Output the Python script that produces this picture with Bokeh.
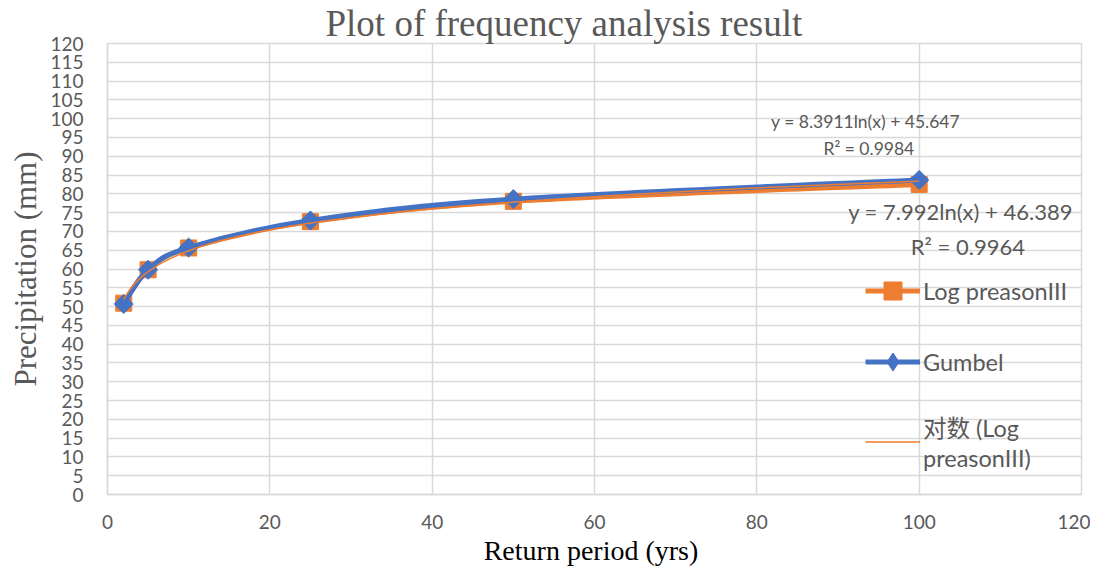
import numpy as np
from bokeh.plotting import figure
from bokeh.models import Legend, LegendItem, Label, FixedTicker, Range1d
from bokeh.embed import file_html
from bokeh.resources import INLINE

# ---------------- data ----------------
return_period = [2, 5, 10, 25, 50, 100]
log_pearson = [50.9, 59.8, 65.6, 72.6, 78.0, 82.5]
gumbel = [50.7, 59.8, 65.7, 72.9, 78.6, 83.7]
x_ticks = [0, 20, 40, 60, 80, 100, 120]
y_ticks = list(range(0, 125, 5))

title_text = "Plot of frequency analysis result"
x_title = "Return period  (yrs)"
y_title = "Precipitation (mm)"
gumbel_eq = ["y = 8.3911ln(x) + 45.647", "R² = 0.9984"]
lp_eq = ["y = 7.992ln(x) + 46.389", "R² = 0.9964"]
series_names = ["Log preasonIII", "Gumbel", "对数 (Log\npreasonIII)"]

ORANGE = "#ED7D31"
BLUE = "#4472C4"
GRID = "#D9D9D9"
TEXT = "#595959"
SANS = "Lato, 'Noto Sans CJK SC'"
SERIF = "Liberation Serif"

p = figure(width=1090, height=568, output_backend="svg", toolbar_location=None,
           x_range=Range1d(0, 120), y_range=Range1d(0, 120),
           min_border_left=107, min_border_right=9, min_border_top=42,
           min_border_bottom=74, background_fill_color="white",
           border_fill_color="white")

# title
p.title.text = title_text
p.title.text_font = SERIF
p.title.text_font_size = "37px"
p.title.text_font_style = "normal"
p.title.text_color = TEXT
p.title.align = "left"
p.title.offset = 218
p.title.standoff = 0

# axes
p.xaxis.ticker = FixedTicker(ticks=x_ticks)
p.yaxis.ticker = FixedTicker(ticks=y_ticks)
for ax in (p.xaxis[0], p.yaxis[0]):
    ax.axis_line_color = GRID
    ax.axis_line_width = 1.5
    ax.major_tick_line_color = None
    ax.minor_tick_line_color = None
    ax.major_tick_out = 0
    ax.major_tick_in = 0
    ax.major_label_text_color = TEXT
    ax.major_label_text_font = SANS
    ax.major_label_text_font_size = "19px"
    ax.axis_label_text_font = SERIF
    ax.axis_label_text_font_style = "normal"
p.xaxis.major_label_standoff = 20
p.yaxis.major_label_standoff = 24
p.xaxis.axis_label = x_title
p.xaxis.axis_label_text_font_size = "28px"
p.xaxis.axis_label_text_color = "#000000"
p.xaxis.axis_label_standoff = 3
p.yaxis.axis_label = y_title
p.yaxis.axis_label_text_font_size = "31px"
p.yaxis.axis_label_text_color = TEXT
p.yaxis.axis_label_standoff = 4

p.grid.grid_line_color = GRID
p.grid.grid_line_width = 1.5
p.outline_line_color = GRID
p.outline_line_width = 1.5


def smooth(xs, ys):
    """Bezier control points (Catmull-Rom style) for a smoothed line through the points."""
    xs = np.asarray(xs, float)
    ys = np.asarray(ys, float)
    n = len(xs)
    xp = np.concatenate([[xs[0]], xs, [xs[-1]]])
    yp = np.concatenate([[ys[0]], ys, [ys[-1]]])
    return dict(
        x0=xs[:-1], y0=ys[:-1], x1=xs[1:], y1=ys[1:],
        cx0=xs[:-1] + (xp[2:n + 1] - xp[0:n - 1]) / 6,
        cy0=ys[:-1] + (yp[2:n + 1] - yp[0:n - 1]) / 6,
        cx1=xs[1:] - (xp[3:n + 2] - xp[1:n]) / 6,
        cy1=ys[1:] - (yp[3:n + 2] - yp[1:n]) / 6,
    )


# Log Pearson III series
p.bezier(**smooth(return_period, log_pearson), line_color=ORANGE, line_width=5,
         line_cap="round")
lp_pts = p.scatter(return_period, log_pearson, marker="square", size=16,
                   fill_color=ORANGE, line_color=ORANGE)
# single-point line: invisible in the plot, gives the legend its line stroke
lp_leg = p.line(return_period[:1], log_pearson[:1], line_color=ORANGE, line_width=5)

# Gumbel series
p.bezier(**smooth(return_period, gumbel), line_color=BLUE, line_width=5,
         line_cap="round")
gb_leg_pt = p.scatter(return_period[:1], gumbel[:1], marker="diamond", size=14,
                      fill_color=BLUE, line_color=BLUE)
gb_pts = p.scatter(return_period, gumbel, marker="square", angle=np.pi / 4,
                   size=13.5, fill_color=BLUE, line_color=BLUE)
gb_leg = p.line(return_period[:1], gumbel[:1], line_color=BLUE, line_width=5)

# logarithmic trendline of Log Pearson III (least squares on ln x)
coef = np.polyfit(np.log(return_period), log_pearson, 1)
tx = np.linspace(min(return_period), max(return_period), 300)
trend = p.line(tx, coef[0] * np.log(tx) + coef[1], line_color=ORANGE, line_width=1.5)

legend = Legend(items=[
    LegendItem(label=series_names[0], renderers=[lp_leg, lp_pts]),
    LegendItem(label=series_names[1], renderers=[gb_leg, gb_leg_pt]),
    LegendItem(label=series_names[2], renderers=[trend]),
], location=(758, 22))
legend.glyph_width = 55
legend.glyph_height = 45
legend.label_height = 37
legend.label_standoff = 3
legend.spacing = 26
legend.padding = 0
legend.margin = 0
legend.border_line_alpha = 0
legend.background_fill_alpha = 0
legend.label_text_font = SANS
legend.label_text_font_size = "23.5px"
legend.label_text_line_height = 1.9
legend.label_text_color = TEXT
p.add_layout(legend)

# trendline equations
p.add_layout(Label(x=93.4, y=99.3, text=gumbel_eq[0], text_align="center",
                   text_baseline="middle", text_font=SANS, text_font_size="17.5px",
                   text_color=TEXT))
p.add_layout(Label(x=93.8, y=92.0, text=gumbel_eq[1], text_align="center",
                   text_baseline="middle", text_font=SANS, text_font_size="17.5px",
                   text_color=TEXT))
p.add_layout(Label(x=105.1, y=75.2, text=lp_eq[0], text_align="center",
                   text_baseline="middle", text_font=SANS, text_font_size="22px",
                   text_color=TEXT))
p.add_layout(Label(x=106.0, y=66.1, text=lp_eq[1], text_align="center",
                   text_baseline="middle", text_font=SANS, text_font_size="22px",
                   text_color=TEXT))

open("out.html", "w").write(file_html(p, INLINE))
